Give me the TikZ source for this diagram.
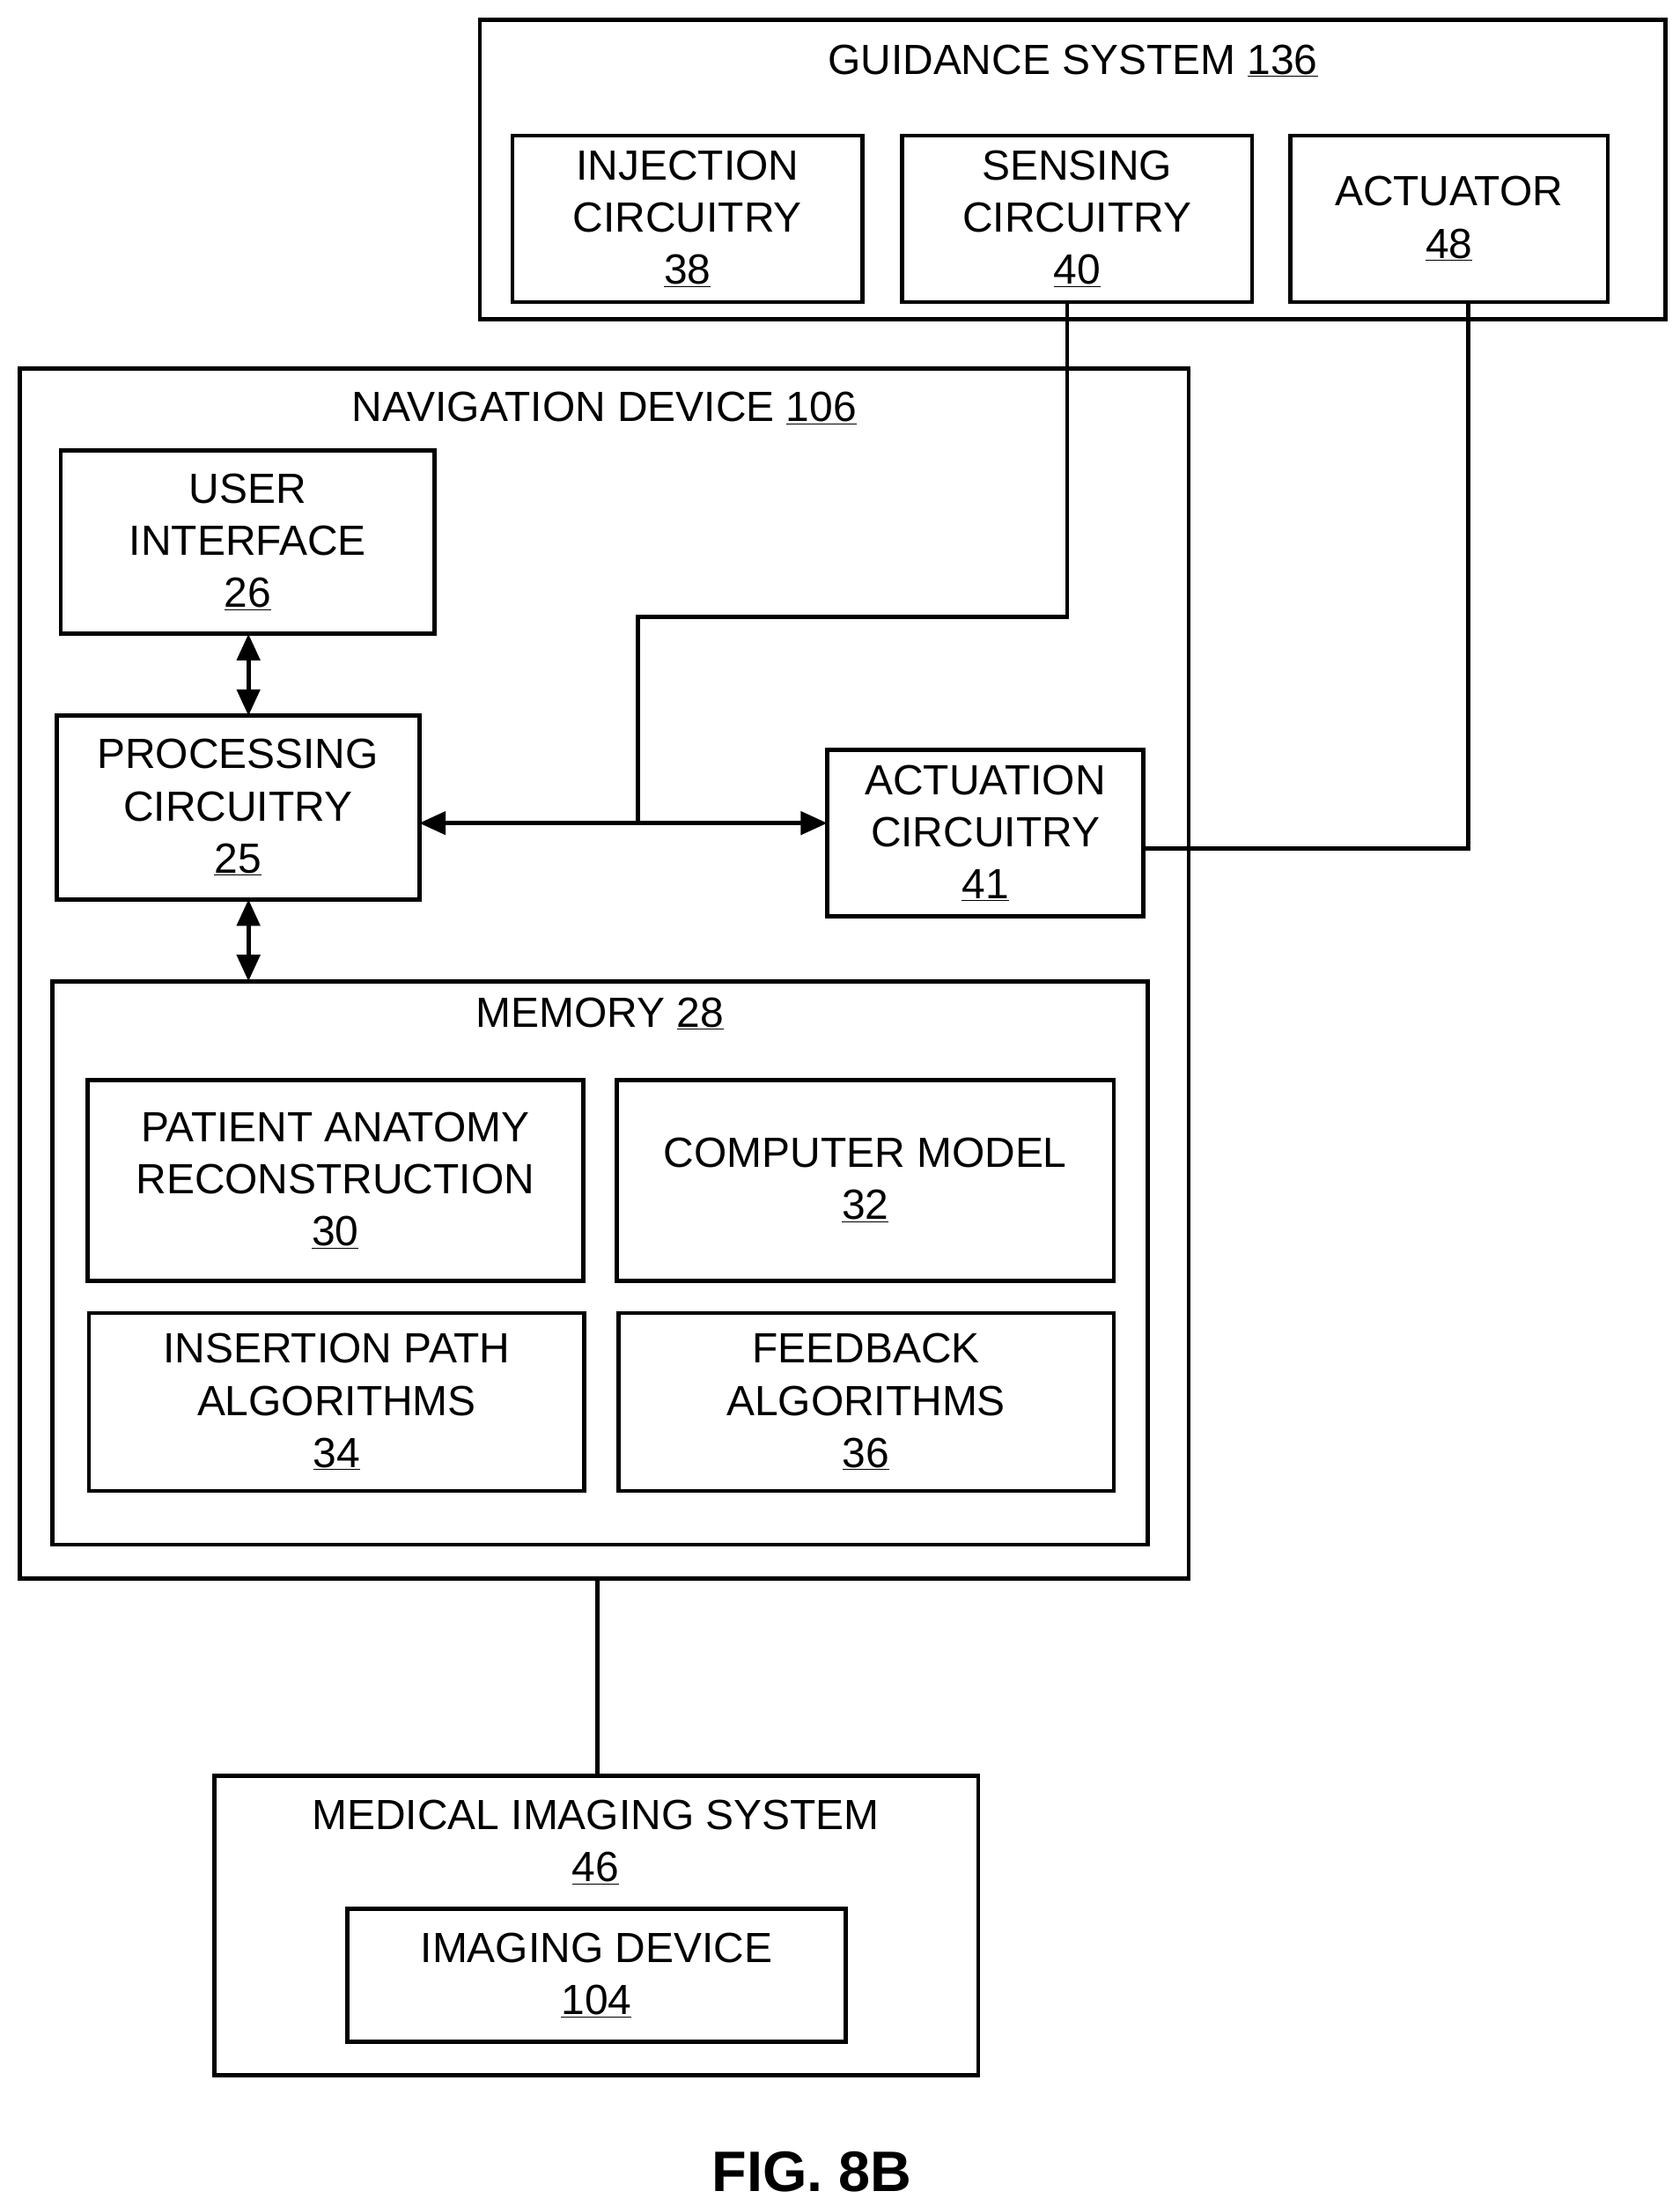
\documentclass[tikz,border=0pt]{standalone}
\usepackage{fontspec}
\setmainfont{Liberation Sans}
\usetikzlibrary{arrows.meta}
\newcommand{\bx}[6]{%
 \pgfmathsetmacro{\bw}{(#4-#2)*0.04}\pgfmathsetmacro{\bh}{(#5-#3)*0.04}%
 \node[box,minimum width=\bw cm,minimum height=\bh cm] (#1) at ({(#2+#4)/2},{(#3+#5)/2}) {#6};}
\newcommand{\cont}[5]{\draw[lw] (#2,#3) rectangle (#4,#5); \coordinate (#1) at ({(#2+#4)/2},#5);}
\begin{document}
\begin{tikzpicture}[x=0.04cm,y=-0.04cm,
 lw/.style={line width=3.4pt},
 box/.style={draw,lw,align=center,inner sep=0pt,font=\fontsize{34}{42}\selectfont},
 tt/.style={font=\fontsize{34}{42}\selectfont,inner sep=0pt},
 arr/.style={lw,{Triangle[length=0.75cm,width=0.65cm]}-{Triangle[length=0.75cm,width=0.65cm]}}]
\useasboundingbox (0,0) rectangle (1190,1562.5);
% guidance
\draw[lw] (340,14) rectangle (1180,226);
\node[tt] (gt) at (760,43) {GUIDANCE SYSTEM \underline{136}};
\bx{inj}{363}{96}{611}{214}{INJECTION\\CIRCUITRY\\\underline{38}}
\bx{sen}{639}{96}{887}{214}{SENSING\\CIRCUITRY\\\underline{40}}
\bx{act}{914}{96}{1139}{214}{ACTUATOR\\\underline{48}}
% navigation
\draw[lw] (14,261) rectangle (842,1118);
\coordinate (navb) at (423,1118);
\node[tt] (nt) at (428,289) {NAVIGATION DEVICE \underline{106}};
\bx{ui}{43}{319}{308}{449}{USER\\INTERFACE\\\underline{26}}
\bx{pc}{40}{507}{297}{637}{PROCESSING\\CIRCUITRY\\\underline{25}}
\bx{ac}{586}{531}{810}{649}{ACTUATION\\CIRCUITRY\\\underline{41}}
\draw[lw] (37,695) rectangle (813,1094);
\coordinate (memt) at (176,695);
\node[tt] (mt) at (425,718) {MEMORY \underline{28}};
\bx{pa}{62}{765}{413}{907}{PATIENT ANATOMY\\RECONSTRUCTION\\\underline{30}}
\bx{cm}{437}{765}{789}{907}{COMPUTER MODEL\\\underline{32}}
\bx{ip}{63}{930}{414}{1056}{INSERTION PATH\\ALGORITHMS\\\underline{34}}
\bx{fb}{438}{930}{789}{1056}{FEEDBACK\\ALGORITHMS\\\underline{36}}
% medical
\draw[lw] (152,1258) rectangle (693,1470);
\coordinate (medt) at (423,1258);
\node[tt,align=center] (mdt) at (422,1305) {MEDICAL IMAGING SYSTEM\\\underline{46}};
\bx{id}{246}{1352}{599}{1446}{IMAGING DEVICE\\\underline{104}}
\node[inner sep=0pt,font=\bfseries\fontsize{46}{50}\selectfont] (fig) at (575,1538) {FIG. 8B};
% connectors
\draw[arr] (176,449) -- (176,507);
\draw[arr] (176,637) -- (memt);
\draw[arr] (297,583) -- (586,583);
\coordinate (j) at (452,583);
\draw[lw] (756,214) -- (756,437) -- (452,437) -- (j);
\draw[lw] (1040,214) -- (1040,601) -- (810,601);
\draw[lw] (navb) -- (medt);
\end{tikzpicture}
\end{document}
